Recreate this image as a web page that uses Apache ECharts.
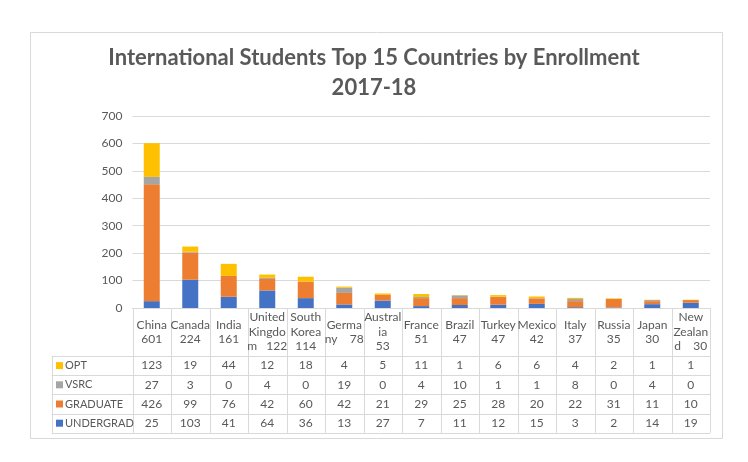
<!DOCTYPE html>
<html><head><meta charset="utf-8">
<script src="https://cdn.jsdelivr.net/npm/echarts@6/dist/echarts.min.js"></script>
<style>html,body{margin:0;padding:0;background:#fff}#c{width:748px;height:462px}</style>
</head><body><div id="c"></div>
<script>
const countries = ['China','Canada','India','United Kingdom','South Korea','Germany','Australia','France','Brazil','Turkey','Mexico','Italy','Russia','Japan','New Zealand'];
const headerLabels = ['China\n601','Canada\n224','India\n161','United\nKingdo\nm   122','South\nKorea\n114','Germa\nny    78','Austral\nia\n53','France\n51','Brazil\n47','Turkey\n47','Mexico\n42','Italy\n37','Russia\n35','Japan\n30','New\nZealan\nd    30'];
const opt = [123,19,44,12,18,4,5,11,1,6,6,4,2,1,1];
const vsrc = [27,3,0,4,0,19,0,4,10,1,1,8,0,4,0];
const graduate = [426,99,76,42,60,42,21,29,25,28,20,22,31,11,10];
const undergrad = [25,103,41,64,36,13,27,7,11,12,15,3,2,14,19];
const yTicks = [0,100,200,300,400,500,600,700];

const seriesDefs = [
  {name:'UNDERGRAD', data: undergrad, color:'#4472C4'},
  {name:'GRADUATE', data: graduate, color:'#ED7D31'},
  {name:'VSRC', data: vsrc, color:'#A5A5A5'},
  {name:'OPT', data: opt, color:'#FFC000'}
];
const tableRows = [seriesDefs[3], seriesDefs[2], seriesDefs[1], seriesDefs[0]];

const FONT = 'Lato';
const TXT = '#595959';
const LINE = '#d9d9d9';
const chart = echarts.init(document.getElementById('c'), null, {renderer:'canvas'});
chart.setOption({
  animation:false,
  textStyle:{fontFamily:FONT},
  title:{text:'International Students Top 15 Countries by Enrollment\n2017-18', left:'center', top:38,
    textStyle:{fontFamily:FONT, fontWeight:'bold', fontSize:22, color:TXT, lineHeight:30}},
  grid:{left:132.5, right:38, top:116, bottom:154, containLabel:false},
  xAxis:{type:'category', data:countries,
    axisLine:{show:true, lineStyle:{color:LINE}}, axisTick:{show:false},
    axisLabel:{interval:0, formatter:(v,i)=>headerLabels[i], verticalAlign:'middle', margin:24, lineHeight:14.5,
      color:TXT, fontSize:12, fontFamily:FONT}},
  yAxis:{type:'value', min:yTicks[0], max:yTicks[yTicks.length-1], interval:100,
    axisLine:{show:false}, axisTick:{show:false},
    axisLabel:{color:TXT, fontSize:12, fontFamily:FONT, margin:10},
    splitLine:{lineStyle:{color:LINE}}},
  series: seriesDefs.map(s=>({name:s.name, type:'bar', stack:'t', data:s.data, barWidth:16,
    itemStyle:{color:s.color}}))
});

// Build data table from arrays
const g = [];
const x0 = chart.convertToPixel({xAxisIndex:0}, 0);
const x1 = chart.convertToPixel({xAxisIndex:0}, 1);
const cw = x1 - x0;
const left = x0 - cw/2;
const right = chart.convertToPixel({xAxisIndex:0}, countries.length-1) + cw/2;
const yTop = chart.convertToPixel({yAxisIndex:0}, 0);
const headerBottom = 356;
const rowH = 19.2;
const legendLeft = 51.7;
const tableBottom = headerBottom + rowH*tableRows.length;
// outer chart border
g.push({type:'rect', shape:{x:30.5,y:32.5,width:692,height:406}, style:{fill:'none', stroke:'#d9d9d9', lineWidth:1}, silent:true, z:-1});
// vertical lines
for (let i=0;i<=countries.length;i++){
  const x = Math.round(left + i*cw)+0.5;
  g.push({type:'line', shape:{x1:x,y1:yTop,x2:x,y2:tableBottom}, style:{stroke:LINE, lineWidth:1}, silent:true});
}
g.push({type:'line', shape:{x1:Math.round(legendLeft)+0.5,y1:headerBottom,x2:Math.round(legendLeft)+0.5,y2:tableBottom}, style:{stroke:LINE,lineWidth:1}, silent:true});
// horizontal lines
for (let r=0;r<=tableRows.length;r++){
  const y = Math.round(headerBottom + r*rowH)+0.5;
  g.push({type:'line', shape:{x1:legendLeft,y1:y,x2:right,y2:y}, style:{stroke:LINE,lineWidth:1}, silent:true});
}
tableRows.forEach((s,r)=>{
  const cy = headerBottom + r*rowH + rowH/2;
  g.push({type:'rect', shape:{x:56, y:cy-3.5, width:7, height:7}, style:{fill:s.color}, silent:true});
  g.push({type:'text', x:65, y:cy, style:{text:s.name, fill:TXT, font:'11px '+FONT, textVerticalAlign:'middle', verticalAlign:'middle'}, silent:true});
  s.data.forEach((v,i)=>{
    const cx = chart.convertToPixel({xAxisIndex:0}, i);
    g.push({type:'text', x:cx, y:cy, style:{text:String(v), fill:TXT, font:'12px '+FONT, align:'center', verticalAlign:'middle', textAlign:'center', textVerticalAlign:'middle'}, silent:true});
  });
});
chart.setOption({graphic:g});
</script></body></html>
